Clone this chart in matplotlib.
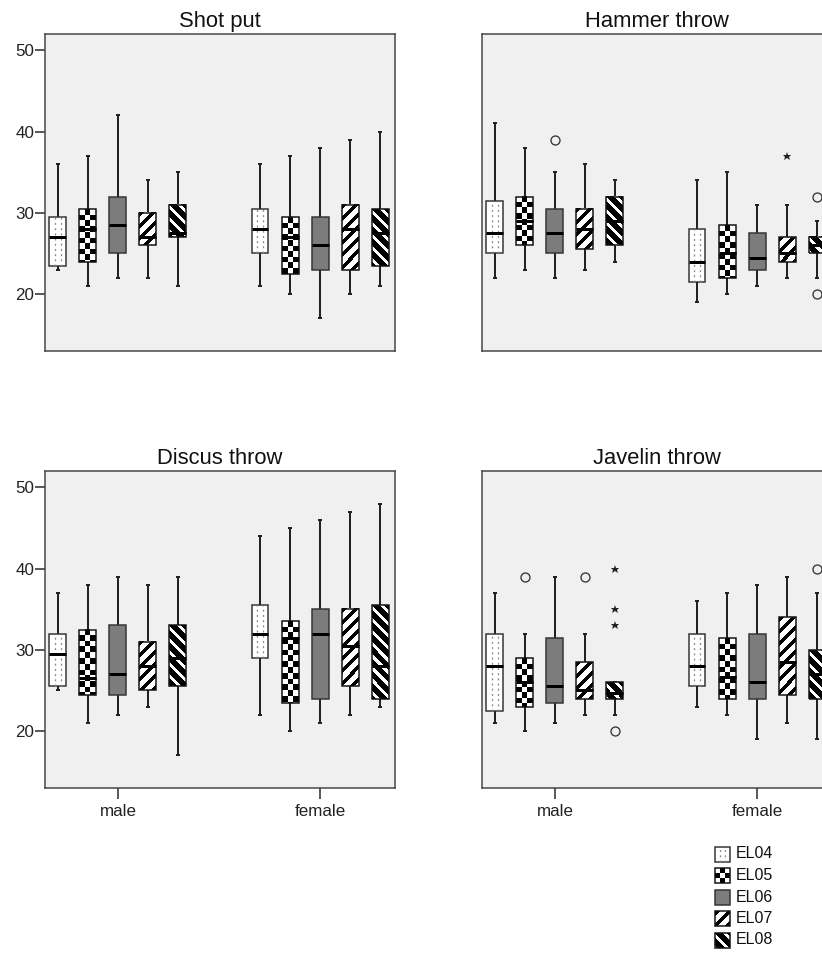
import numpy as np
import matplotlib
matplotlib.use('Agg')
import matplotlib.pyplot as plt
from matplotlib.patches import Rectangle

plt.rcParams['font.family'] = ['Liberation Sans', 'DejaVu Sans']

# ─────────────────────────────────────────────────────────────────────────────
# DATA  (low whisker, Q1, median, Q3, high whisker) per series
# ─────────────────────────────────────────────────────────────────────────────

SERIES = ['EL04', 'EL05', 'EL06', 'EL07', 'EL08']
GROUPS = ['male', 'female']
EVENTS = ['Shot put', 'Hammer throw', 'Discus throw', 'Javelin throw']

shot_male     = [(23, 23.5, 27, 29.5, 36), (21, 24, 28, 30.5, 37), (22, 25, 28.5, 32, 42),
                 (22, 26, 27, 30, 34), (21, 27, 27.5, 31, 35)]
shot_female   = [(21, 25, 28, 30.5, 36), (20, 22.5, 27, 29.5, 37), (17, 23, 26, 29.5, 38),
                 (20, 23, 28, 31, 39), (21, 23.5, 27.5, 30.5, 40)]

hammer_male   = [(22, 25, 27.5, 31.5, 41), (23, 26, 29, 32, 38), (22, 25, 27.5, 30.5, 35),
                 (23, 25.5, 28, 30.5, 36), (24, 26, 29, 32, 34)]
hammer_female = [(19, 21.5, 24, 28, 34), (20, 22, 25, 28.5, 35), (21, 23, 24.5, 27.5, 31),
                 (22, 24, 25, 27, 31), (22, 25, 26, 27, 29)]

discus_male   = [(25, 25.5, 29.5, 32, 37), (21, 24.5, 26.5, 32.5, 38), (22, 24.5, 27, 33, 39),
                 (23, 25, 28, 31, 38), (17, 25.5, 29, 33, 39)]
discus_female = [(22, 29, 32, 35.5, 44), (20, 23.5, 31.5, 33.5, 45), (21, 24, 32, 35, 46),
                 (22, 25.5, 30.5, 35, 47), (23, 24, 28, 35.5, 48)]

javelin_male   = [(21, 22.5, 28, 32, 37), (20, 23, 26, 29, 32), (21, 23.5, 25.5, 31.5, 39),
                  (22, 24, 25, 28.5, 32), (22, 24, 24.7, 26, 26)]
javelin_female = [(23, 25.5, 28, 32, 36), (22, 24, 26.7, 31.5, 37), (19, 24, 26, 32, 38),
                  (21, 24.5, 28.5, 34, 39), (19, 24, 27, 30, 37)]

# outliers: (group, series, value, marker)
hammer_outliers  = [('male', 'EL06', 39, 'o'), ('female', 'EL07', 37, '*'),
                    ('female', 'EL08', 32, 'o'), ('female', 'EL08', 20, 'o')]
javelin_outliers = [('male', 'EL05', 39, 'o'), ('male', 'EL07', 39, 'o'),
                    ('male', 'EL08', 40, '*'), ('male', 'EL08', 35, '*'),
                    ('male', 'EL08', 33, '*'), ('male', 'EL08', 20, 'o'),
                    ('female', 'EL08', 40, 'o')]

PANELS = {
    'Shot put':      (shot_male, shot_female, []),
    'Hammer throw':  (hammer_male, hammer_female, hammer_outliers),
    'Discus throw':  (discus_male, discus_female, []),
    'Javelin throw': (javelin_male, javelin_female, javelin_outliers),
}

Y_TICKS = [20, 30, 40, 50]

# ─────────────────────────────────────────────────────────────────────────────
# STYLE
# ─────────────────────────────────────────────────────────────────────────────

W, H, DPI = 822, 956, 72
PW, PH    = 350, 317                 # panel size in px
XLIM      = (-0.361, 1.371)
YLIM      = (13, 52)
BOX_W     = 0.084
STEP      = 0.1485
CAP_W     = 0.012
BG        = '#f0f0f0'
EDGE      = '#333333'
OS        = 3                        # oversampling of pattern images


def pattern(series, nx, ny):
    """Black(1)/white(0) pattern array of nx by ny screen pixels."""
    r, c = np.mgrid[0:ny * OS, 0:nx * OS] / OS
    if series == 'EL05':
        cs = nx / 3.0
        return ((np.floor(c / cs) + np.floor(r / cs)) % 2).astype(float)
    if series == 'EL07':
        return (((c + r) % 12) < 5).astype(float)
    return (((c - r) % 12) < 7.5).astype(float)


def fill_box(ax, x0, x1, y0, y1, series, sx, sy):
    """Fill a rectangle with the pattern of one series (sx, sy = px per unit).
    y1 is the edge drawn on top of the screen."""
    if series in ('EL05', 'EL07', 'EL08'):
        nx = max(1, int(round((x1 - x0) * sx)))
        ny = max(1, int(round(abs(y1 - y0) * sy)))
        ax.imshow(pattern(series, nx, ny), extent=[x0, x1, y0, y1],
                  cmap='gray_r', vmin=0, vmax=1, interpolation='nearest',
                  aspect='auto', zorder=2)
        ax.add_patch(Rectangle((x0, y0), x1 - x0, y1 - y0, facecolor='none',
                               edgecolor='#111111', lw=1.5, zorder=3))
        return
    face = 'white' if series == 'EL04' else '#7c7c7c'
    ax.add_patch(Rectangle((x0, y0), x1 - x0, y1 - y0, facecolor=face,
                           edgecolor=EDGE, lw=1.5, zorder=2))
    if series == 'EL04':
        ax.vlines([x0 + (x1 - x0) / 3, x0 + 2 * (x1 - x0) / 3], y0, y1,
                  colors='#8a8a8a', lw=1.3, linestyles=(0, (1.5, 2.5)), zorder=3)


def draw_box(ax, x, stats, series, sx, sy):
    lo, q1, med, q3, hi = stats
    ax.vlines(x, q3, hi, colors='#222222', lw=2, zorder=1)
    ax.vlines(x, lo, q1, colors='#222222', lw=2, zorder=1)
    ax.hlines([lo, hi], x - CAP_W, x + CAP_W, colors='#222222', lw=2, zorder=1)
    fill_box(ax, x - BOX_W / 2, x + BOX_W / 2, q1, q3, series, sx, sy)
    ax.hlines(med, x - BOX_W / 2, x + BOX_W / 2, colors='black', lw=3, zorder=4)


# ─────────────────────────────────────────────────────────────────────────────
# FIGURE
# ─────────────────────────────────────────────────────────────────────────────

fig = plt.figure(figsize=(W / DPI, H / DPI), dpi=DPI)

# panel frames in pixels: (left, top)
frames = {'Shot put': (45, 34), 'Hammer throw': (482, 34),
          'Discus throw': (45, 471), 'Javelin throw': (482, 471)}
SX = PW / (XLIM[1] - XLIM[0])
SY = PH / (YLIM[1] - YLIM[0])

for name in EVENTS:
    left, top = frames[name]
    ax = fig.add_axes([left / W, 1 - (top + PH) / H, PW / W, PH / H])
    ax.set_facecolor(BG)
    male, female, outliers = PANELS[name]

    for g, data in enumerate([male, female]):
        for i, (s, stats) in enumerate(zip(SERIES, data)):
            draw_box(ax, g + (i - 2) * STEP, stats, s, SX, SY)

    for grp, s, val, mk in outliers:
        x = GROUPS.index(grp) + (SERIES.index(s) - 2) * STEP
        if mk == 'o':
            ax.plot(x, val, 'o', ms=9, mfc='none', mec='#333333', mew=1.3, zorder=5)
        else:
            ax.plot(x, val, '*', ms=9, color='#222222', mew=0, zorder=5)

    ax.set_xlim(*XLIM)
    ax.set_ylim(*YLIM)
    for sp in ax.spines.values():
        sp.set_color('#444444')
        sp.set_linewidth(1.5)

    ax.set_title(name, fontsize=22, pad=7, color='#111111')

    if left < 100:
        ax.set_yticks(Y_TICKS)
        ax.tick_params(axis='y', length=10, width=1.6, color='#333333',
                       labelsize=17, pad=1, labelcolor='#222222')
    else:
        ax.set_yticks([])

    if top > 400:
        ax.set_xticks([0, 1])
        ax.set_xticklabels(GROUPS)
        ax.tick_params(axis='x', length=11, width=1.6, color='#333333',
                       labelsize=17, pad=5, labelcolor='#222222')
    else:
        ax.set_xticks([])

# ─────────────────────────────────────────────────────────────────────────────
# LEGEND
# ─────────────────────────────────────────────────────────────────────────────

lx, ly, lw_, lh = 710, 844, 110, 108
ax_leg = fig.add_axes([lx / W, 1 - (ly + lh) / H, lw_ / W, lh / H])
for i, s in enumerate(SERIES):
    yc = 10 + i * 21.5
    # y axis is inverted here, so the upper edge is the smaller value
    fill_box(ax_leg, 5, 20, yc + 7.5, yc - 7.5, s, 1, 1)
    ax_leg.text(26, yc, s, fontsize=16, va='center', ha='left', color='#111111')
ax_leg.set_xlim(0, lw_)
ax_leg.set_ylim(lh, 0)
ax_leg.axis('off')

fig.savefig('out.png', dpi=DPI, facecolor='white')
